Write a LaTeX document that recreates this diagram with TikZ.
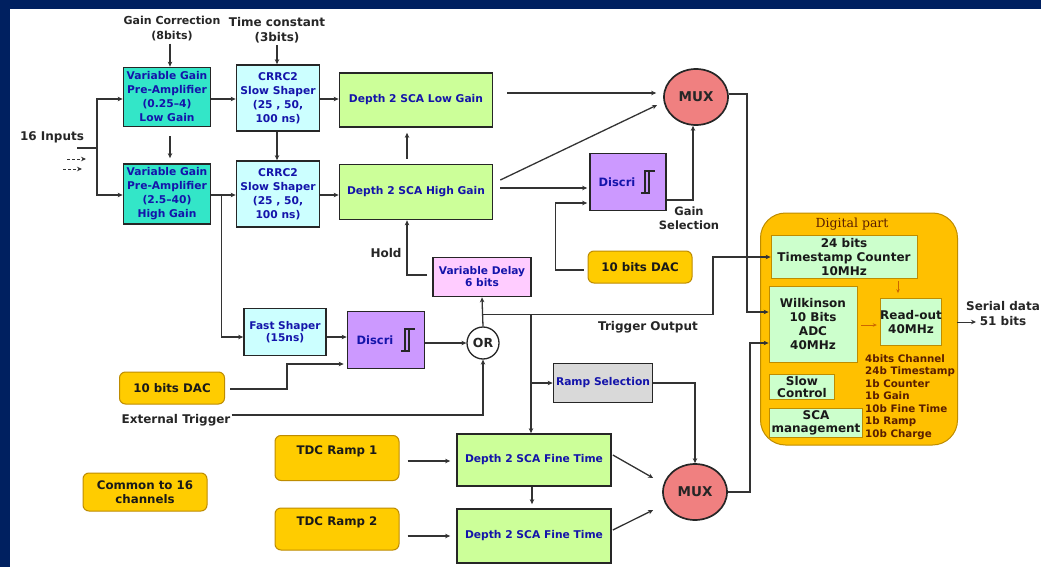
\documentclass[tikz,border=0pt]{standalone}
\usepackage{fontspec}
\setmainfont{DejaVu Sans}
\newfontfamily\serifdp{DejaVu Serif}
\usetikzlibrary{arrows.meta,calc,shapes.geometric}

\definecolor{navy}{RGB}{0,32,96}
\definecolor{txtblue}{RGB}{20,20,170}
\definecolor{vga}{RGB}{51,230,200}
\definecolor{lcyan}{RGB}{204,255,255}
\definecolor{lgreen}{RGB}{204,255,153}
\definecolor{purp}{RGB}{204,153,255}
\definecolor{pinkd}{RGB}{255,204,255}
\definecolor{lgray}{RGB}{217,217,217}
\definecolor{salmon}{RGB}{240,128,128}
\definecolor{goldf}{RGB}{255,204,0}
\definecolor{goldb}{RGB}{190,140,0}
\definecolor{dorange}{RGB}{255,192,0}
\definecolor{mintf}{RGB}{204,255,204}
\definecolor{brownt}{RGB}{90,30,0}
\definecolor{oarrc}{RGB}{204,102,0}

\tikzset{
  sz/.style 2 args={minimum width=#1, minimum height=#2},
  blk/.style={draw=black!85, line width=1.7pt, align=center, text=txtblue,
    font=\bfseries\fontsize{10.7}{14}\selectfont, inner sep=1pt},
  rbox/.style={draw=goldb, fill=goldf, rounded corners=6pt, line width=1pt,
    align=center, text=black!90, font=\bfseries\fontsize{11.8}{14}\selectfont, inner sep=1pt},
  dbox/.style={draw=goldb, fill=mintf, line width=0.8pt, align=center, text=black!90,
    font=\bfseries\fontsize{12}{14}\selectfont, inner sep=0pt},
  lbl/.style={font=\bfseries\fontsize{12}{15}\selectfont, text=black!85, align=center, inner sep=1pt},
  muxn/.style={ellipse, draw=black!85, fill=salmon, line width=1.7pt, minimum width=64pt,
    minimum height=56pt, font=\bfseries\fontsize{13.5}{14}\selectfont, text=black!85},
  orc/.style={circle, draw=black!85, fill=white, line width=1.3pt, minimum size=32pt,
    inner sep=0pt, font=\bfseries\fontsize{12.5}{14}\selectfont, text=black!85},
  ln/.style={draw=black!80, line width=1.3pt},
  arr/.style={draw=black!80, line width=1.3pt, -{Stealth[length=5pt,width=4.5pt]}},
  oarr/.style={draw=oarrc, line width=0.9pt, -{Stealth[length=4pt,width=3.5pt]}},
  hyst/.pic={
    \draw[black!85, line width=1.1pt] (-7,11) -- (1,11) -- (1,-11);
    \draw[black!85, line width=1.1pt] (-3,11) -- (-3,-11) -- (7,-11);
  }
}

\begin{document}
\begin{tikzpicture}[x=1pt,y=-1pt]
\useasboundingbox (0,0) rectangle (1041,567);
\fill[navy] (0,0) rectangle (1041,567);
\fill[white] (10,9) rectangle (1041,567);

% labels
\node[lbl, font=\bfseries\fontsize{11}{15}\selectfont] (gc) at (172,29) {Gain Correction\\(8bits)};
\node[lbl] (tc) at (277,30) {Time constant\\(3bits)};
\node[lbl] (inl) at (52,137) {16 Inputs};
\node[lbl] (hold) at (386,253) {Hold};
\node[lbl, font=\bfseries\fontsize{11.5}{14}\selectfont] (gsel) at (689,218) {Gain\\Selection};
\node[lbl] (ext) at (176,420) {External Trigger};
\node[lbl] (trig) at (648,327) {Trigger Output};
\node[lbl] (ser) at (1003,314) {Serial data\\51 bits};

% analog chain
\node[blk, fill=vga, sz={87pt}{59pt}] (vgaL) at (167,97) {Variable Gain\\Pre-Amplifier\\(0.25–4)\\Low Gain};
\node[blk, fill=vga, sz={87pt}{60pt}] (vgaH) at (167,194) {Variable Gain\\Pre-Amplifier\\(2.5–40)\\High Gain};
\node[blk, fill=lcyan, sz={83pt}{66pt}] (crrcL) at (278,98) {CRRC2\\Slow Shaper\\(25 , 50,\\100 ns)};
\node[blk, fill=lcyan, sz={83pt}{66pt}] (crrcH) at (278,194) {CRRC2\\Slow Shaper\\(25 , 50,\\100 ns)};
\node[blk, fill=lgreen, sz={153pt}{54pt}] (scaL) at (416,100) {Depth 2 SCA Low Gain};
\node[blk, fill=lgreen, sz={153pt}{55pt}] (scaH) at (416,192) {Depth 2 SCA High Gain};
\node[muxn] (mux1) at (696,97) {MUX};
\node[blk, fill=purp, sz={76pt}{57pt}, font=\bfseries\fontsize{11.5}{14}\selectfont] (dis2) at (628,182) {Discri\hspace{22pt}};
\pic at ($(dis2.center)+(20,0)$) {hyst};
\node[rbox, sz={104pt}{32pt}] (dacR) at (640,267) {10 bits DAC};
\node[blk, fill=pinkd, sz={98pt}{39pt}, font=\bfseries\fontsize{10.6}{12}\selectfont] (vdel) at (482,277) {Variable Delay\\6 bits};
\node[orc] (or) at (483,343) {OR};
\node[blk, fill=lcyan, sz={82pt}{47pt}, font=\bfseries\fontsize{10.6}{12}\selectfont] (fast) at (285,332) {Fast Shaper\\(15ns)};
\node[blk, fill=purp, sz={77pt}{57pt}, font=\bfseries\fontsize{11.5}{14}\selectfont] (dis1) at (386,340) {Discri\hspace{22pt}};
\pic at ($(dis1.center)+(22,0)$) {hyst};
\node[rbox, sz={105pt}{32pt}] (dacL) at (172,388) {10 bits DAC};
\node[blk, fill=lgray, sz={99pt}{39pt}] (ramp) at (603,383) {Ramp Selection};
\node[muxn] (mux2) at (695,492) {MUX};
\node[blk, fill=lgreen, sz={154pt}{52pt}] (ft1) at (534,460) {Depth 2 SCA Fine Time};
\node[blk, fill=lgreen, sz={154pt}{54pt}] (ft2) at (534,536) {Depth 2 SCA Fine Time};
\node[rbox, sz={124pt}{45pt}] (tdc1) at (337,458) {\raisebox{7pt}[\height][\depth]{TDC Ramp 1}};
\node[rbox, sz={124pt}{42pt}] (tdc2) at (337,529) {\raisebox{7pt}[\height][\depth]{TDC Ramp 2}};
\node[rbox, sz={124pt}{38pt}] (com) at (145,492) {Common to 16\\channels};

% digital part
\node[draw=goldb, fill=dorange, rounded corners=25pt, line width=1pt, sz={197pt}{232pt}] (dig) at (859,329) {};
\node[font=\serifdp\fontsize{12.5}{14}\selectfont, text=brownt, inner sep=0pt] (digt) at (852,224) {Digital part};
\node[dbox, sz={146pt}{43pt}] (ts) at (844,257) {24 bits\\Timestamp Counter\\10MHz};
\node[dbox, sz={88pt}{76pt}] (wilk) at (813,324) {Wilkinson\\10 Bits\\ADC\\40MHz};
\node[dbox, sz={61pt}{47pt}] (rdo) at (911,322) {Read-out\\40MHz};
\node[dbox, sz={65pt}{25pt}, font=\bfseries\fontsize{12}{12.5}\selectfont] (slow) at (802,387) {Slow\\Control};
\node[dbox, sz={93pt}{29pt}, font=\bfseries\fontsize{12}{13}\selectfont] (scam) at (816,423) {SCA\\management};
\node[font=\bfseries\fontsize{10.3}{12.5}\selectfont, text=brownt, align=left, anchor=west, inner sep=0pt] (bits) at (865,397)
  {4bits Channel\\24b Timestamp\\1b Counter\\1b Gain\\10b Fine Time\\1b Ramp\\10b Charge};

% coordinates for free ends
\coordinate (inA) at (77,148);
\coordinate (jin) at (97,148);
\coordinate (d1a) at (67,159);
\coordinate (d1b) at (86,159);
\coordinate (d2a) at (63,169);
\coordinate (d2b) at (82,169);
\coordinate (serA) at (957,322);
\coordinate (serB) at (976,322);

% inputs
\draw[ln] (inA) -- (jin);
\draw[arr] (jin) |- ($(vgaL.west)+(0,2)$);
\draw[arr] (jin) |- ($(vgaH.west)+(0,1)$);
\draw[arr, dash pattern=on 3pt off 2pt, line width=1pt] (d1a) -- (d1b);
\draw[arr, dash pattern=on 3pt off 2pt, line width=1pt] (d2a) -- (d2b);

% top controls
\coordinate (gcx) at ($(gc.south)+(-2,1)$);
\draw[arr] (gcx) -- (gcx |- vgaL.north);
\coordinate (tcx) at ($(tc.south)+(0,1)$);
\draw[arr] (tcx) -- (tcx |- crrcL.north);

% chain
\draw[arr, shorten <=9pt, shorten >=5pt] ($(vgaL.south)+(3,0)$) -- ($(vgaH.north)+(3,0)$);
\draw[arr] ($(crrcL.south)+(-1,0)$) -- ($(crrcH.north)+(-1,0)$);
\draw[arr] ($(vgaL.east)+(0,2)$) -- ($(crrcL.west)+(0,1)$);
\draw[arr] ($(vgaH.east)+(0,1)$) -- ($(crrcH.west)+(0,1)$);
\draw[arr] ($(crrcL.east)+(0,1)$) -- ($(scaL.west)+(0,-1)$);
\draw[arr] ($(crrcH.east)+(0,1)$) -- ($(scaH.west)+(0,3)$);
\draw[arr, shorten <=5pt, shorten >=5pt] ($(scaH.north)+(-9,0)$) -- ($(scaL.south)+(-9,0)$);
\draw[arr, shorten <=14pt, shorten >=7pt] ($(scaL.east)+(0,-7)$) -- ($(mux1.west)+(0,-4)$);
\draw[arr] ($(scaH.east)+(7,-12)$) -- ($(mux1.west)+(-6,8)$);
\draw[arr] ($(scaH.east)+(7,-4)$) -- ($(dis2.west)+(-2,6)$);
\draw[arr] ($(dacR.west)+(-4,3)$) -- ++(-28,0) |- ($(dis2.west)+(-2,21)$);
\draw[arr] ($(dis2.east)+(0,18)$) -| ($(mux1.south)+(-3,0)$);
\draw[arr] ($(mux1.east)+(0,-3)$) -- ++(18,0) |- ($(wilk.west)+(0,-12)$);
\draw[arr] (mux2.east) -- ++(22,0) |- ($(wilk.west)+(0,19)$);

% trigger path
\coordinate (jH) at ($(vgaH.east)!0.42!(crrcH.west)+(0,1)$);
\draw[arr] (jH) |- ($(fast.west)+(0,5)$);
\draw[arr] ($(fast.east)+(0,5)$) -- ($(dis1.west)+(0,-3)$);
\draw[arr] (dis1.east |- or.west) -- (or.west);
\draw[arr] ($(dacL.east)+(5,1)$) -- ++(57,0) |- ($(dis1.west)+(-3,24)$);
\draw[arr] ($(ext.north east)+(0,2)$) -| (or.south);
\draw[arr] (or.north) -- (vdel.south);
\coordinate (jT) at ($(or.north)+(0,-12)$);
\draw[arr] (jT) -- ++(230,0) |- (ts.west);
\draw[arr] ($(vdel.west)+(-5,-2)$) -| ($(scaH.south)+(-9,0)$);
\coordinate (jT2) at ($(ft1.north |- jT)+(-3,0)$);
\draw[arr] (jT2) -- (jT2 |- ft1.north);
\draw[arr] (jT2 |- ramp.west) -- (ramp.west);
\draw[arr] (ramp.east) -| (mux2.north);

% fine time
\draw[arr, shorten <=8pt, shorten >=6pt] ($(tdc1.east)+(0,3)$) -- ($(ft1.west)+(0,1)$);
\draw[arr, shorten <=8pt, shorten >=6pt] ($(tdc2.east)+(0,7)$) -- (ft2.west);
\draw[arr, shorten >=4pt] ($(ft1.south)+(-2,0)$) -- ($(ft2.north)+(-2,0)$);
\draw[arr] ($(ft1.east)+(1,-5)$) -- ($(mux2.west)+(-9,-14)$);
\draw[arr] ($(ft2.east)+(1,-6)$) -- ($(mux2.west)+(-9,18)$);

% digital inner
\draw[oarr] ($(ts.south)+(54,2)$) -- ($(rdo.north)+(-13,-5)$);
\draw[oarr] ($(wilk.east)+(4,1)$) -- ($(rdo.west)+(-3,3)$);
\draw[arr, line width=1pt] (serA) -- (serB);
\end{tikzpicture}
\end{document}
